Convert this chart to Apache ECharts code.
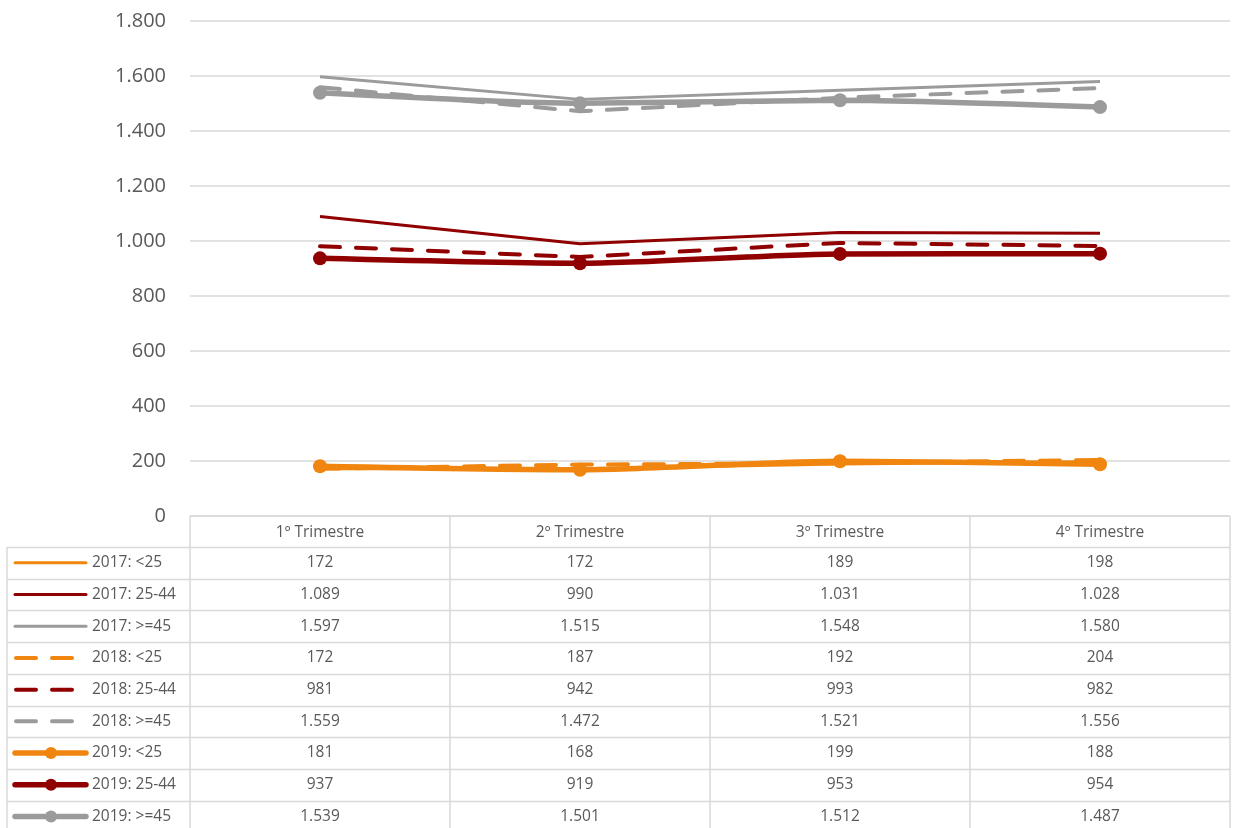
<!DOCTYPE html>
<html lang="es">
<head>
  <meta charset="UTF-8" />
  <script src="https://cdn.jsdelivr.net/npm/echarts@6/dist/echarts.min.js"></script>
  <title>Trimestres por edad</title>
  <style>
    html, body { margin: 0; padding: 0; background: #fff; }
  </style>
</head>
<body>
  <div id="main" style="width: 1234px; height: 828px;"></div>
  <script type="text/javascript">
    // categorias del eje x
    var quarters = ["1º Trimestre", "2º Trimestre", "3º Trimestre", "4º Trimestre"];
    var seriesNames = [
      "2017: <25", "2017: 25-44", "2017: >=45",
      "2018: <25", "2018: 25-44", "2018: >=45",
      "2019: <25", "2019: 25-44", "2019: >=45"
    ];
    var v2017a = [172, 172, 189, 198];
    var v2017b = [1089, 990, 1031, 1028];
    var v2017c = [1597, 1515, 1548, 1580];
    var v2018a = [172, 187, 192, 204];
    var v2018b = [981, 942, 993, 982];
    var v2018c = [1559, 1472, 1521, 1556];
    var v2019a = [181, 168, 199, 188];
    var v2019b = [937, 919, 953, 954];
    var v2019c = [1539, 1501, 1512, 1487];
    var values = [v2017a, v2017b, v2017c, v2018a, v2018b, v2018c, v2019a, v2019b, v2019c];

    var ORANGE = "#F0850F", RED = "#900000", GRAY = "#9B9B9B";
    var colors = [ORANGE, RED, GRAY, ORANGE, RED, GRAY, ORANGE, RED, GRAY];
    var textColor = "#595959";
    var lineColor = "#D9D9D9";
    var tableFont = "15.5px 'Open Sans'";

    // formato con punto de miles
    function fmt(n) {
      return String(n).replace(/\B(?=(\d{3})+(?!\d))/g, ".");
    }

    // estilo segun el año: 0 solido fino, 1 discontinuo, 2 grueso con marcador
    function styleOf(i) {
      return Math.floor(i / 3);
    }

    var gridLeft = 190, gridRight = 4, gridTop = 21, gridBottom = 312;
    var tableLeft = 7;
    var headerH = 31, rowH = 31.7;

    var myChart = echarts.init(document.getElementById("main"));

    var series = values.map(function (d, i) {
      var s = styleOf(i);
      return {
        name: seriesNames[i],
        type: "line",
        data: d,
        smooth: s === 2 ? 0.25 : false,
        symbol: s === 2 ? "circle" : "none",
        symbolSize: 14,
        showSymbol: s === 2,
        z: 2 + s,
        lineStyle: {
          color: colors[i],
          width: s === 0 ? 3 : (s === 1 ? 4 : 5.5),
          type: s === 1 ? [20, 16] : "solid",
          cap: s === 1 ? "round" : "butt"
        },
        itemStyle: { color: colors[i] },
        emphasis: { disabled: true },
        animation: false
      };
    });

    myChart.setOption({
      animation: false,
      grid: { left: gridLeft, right: gridRight, top: gridTop, bottom: gridBottom, containLabel: false },
      xAxis: {
        type: "category",
        data: quarters,
        boundaryGap: true,
        axisLine: { show: false },
        axisTick: { show: false },
        axisLabel: { show: false },
        splitLine: { show: false }
      },
      yAxis: {
        type: "value",
        min: 0,
        max: 1800,
        interval: 200,
        axisLine: { show: false },
        axisTick: { show: false },
        axisLabel: {
          color: textColor,
          fontFamily: "Open Sans",
          fontSize: 20,
          margin: 24,
          formatter: function (v) { return fmt(v); }
        },
        splitLine: { lineStyle: { color: lineColor, width: 1.5 } }
      },
      series: series
    });

    // tabla de datos bajo el grafico
    var graphics = [];
    var plotRight = 1234 - gridRight;
    var y0 = 828 - gridBottom;
    var colEdges = [];
    for (var c = 0; c <= quarters.length; c++) {
      colEdges.push(gridLeft + (plotRight - gridLeft) * c / quarters.length);
    }
    var lineStyle = { stroke: lineColor, lineWidth: 1.5 };
    var rowsBottom = y0 + headerH + rowH * seriesNames.length;

    // lineas horizontales
    graphics.push({ type: "line", shape: { x1: gridLeft, y1: y0, x2: plotRight, y2: y0 }, style: lineStyle, silent: true });
    for (var r = 0; r <= seriesNames.length; r++) {
      var yy = Math.round(y0 + headerH + rowH * r) + 0.5;
      graphics.push({ type: "line", shape: { x1: tableLeft, y1: yy, x2: plotRight, y2: yy }, style: lineStyle, silent: true });
    }
    // lineas verticales
    colEdges.forEach(function (x) {
      graphics.push({ type: "line", shape: { x1: x, y1: y0, x2: x, y2: rowsBottom }, style: lineStyle, silent: true });
    });
    graphics.push({ type: "line", shape: { x1: tableLeft, y1: y0 + headerH, x2: tableLeft, y2: rowsBottom }, style: lineStyle, silent: true });

    // cabecera
    quarters.forEach(function (q) {
      var cx = myChart.convertToPixel({ xAxisIndex: 0 }, q);
      graphics.push({
        type: "text", x: cx, y: y0 + headerH / 2 + 1, silent: true,
        style: { text: q, fill: textColor, font: tableFont, align: "center", verticalAlign: "middle" }
      });
    });

    // filas
    seriesNames.forEach(function (name, i) {
      var cy = y0 + headerH + rowH * i + rowH / 2;
      var s = styleOf(i);
      // clave de la leyenda
      if (s === 1) {
        graphics.push({ type: "line", shape: { x1: 16, y1: cy, x2: 36, y2: cy }, style: { stroke: colors[i], lineWidth: 4, lineCap: "round" }, silent: true });
        graphics.push({ type: "line", shape: { x1: 52, y1: cy, x2: 72, y2: cy }, style: { stroke: colors[i], lineWidth: 4, lineCap: "round" }, silent: true });
      } else {
        graphics.push({ type: "line", shape: { x1: 15, y1: cy, x2: 86, y2: cy }, style: { stroke: colors[i], lineWidth: s === 0 ? 3 : 5.5, lineCap: "round" }, silent: true });
        if (s === 2) {
          graphics.push({ type: "circle", shape: { cx: 51, cy: cy, r: 6 }, style: { fill: colors[i] }, silent: true });
        }
      }
      graphics.push({
        type: "text", x: 92, y: cy, silent: true,
        style: { text: name, fill: textColor, font: tableFont, align: "left", verticalAlign: "middle" }
      });
      values[i].forEach(function (v, c) {
        var cx = myChart.convertToPixel({ xAxisIndex: 0 }, quarters[c]);
        graphics.push({
          type: "text", x: cx, y: cy, silent: true,
          style: { text: fmt(v), fill: textColor, font: tableFont, align: "center", verticalAlign: "middle" }
        });
      });
    });

    myChart.setOption({ graphic: graphics });
  </script>
</body>
</html>
